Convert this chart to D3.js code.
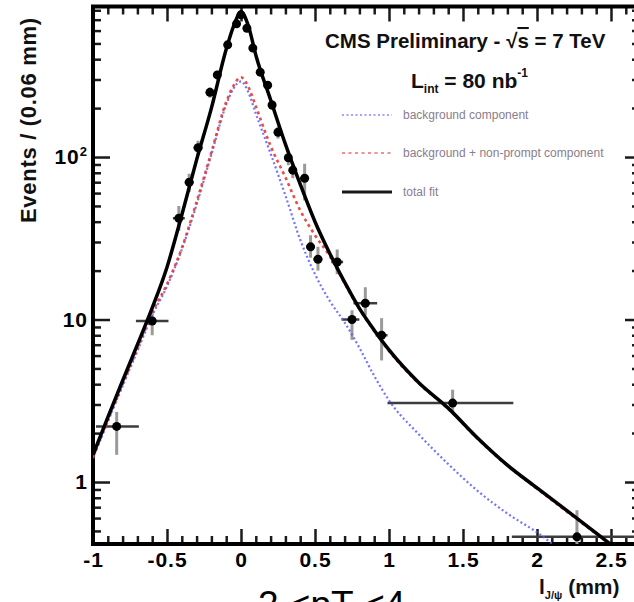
<!DOCTYPE html>
<html>
<head>
<meta charset="utf-8">
<script src="https://cdn.jsdelivr.net/npm/d3@7/dist/d3.min.js"></script>
<style>
  body { margin: 0; background: #fff; }
  svg { display: block; font-family: 'Liberation Sans', Arial, sans-serif; }
</style>
</head>
<body>
<div id="chart"></div>
<script>
var width = 634;
var height = 602;
var plotLeft = 93, plotRight = 640, plotTop = 6.5, plotBottom = 544;

// fit curves
var fitX =       [-1, -0.9, -0.8, -0.7, -0.6, -0.5, -0.4, -0.3, -0.2, -0.1, -0.05, 0, 0.05, 0.1, 0.2, 0.3, 0.4, 0.5, 0.6, 0.7, 0.8, 0.9, 1.0, 1.2, 1.4, 1.6, 1.8, 2.0, 2.2, 2.4, 2.6];
var totalFit =   [1.47, 2.5, 4.2, 7.0, 11.8, 21, 44, 96, 200, 460, 640, 780, 640, 425, 225, 120, 68, 40, 25.5, 17, 11.7, 8.6, 6.5, 4.1, 2.85, 1.86, 1.27, 0.92, 0.67, 0.485, 0.35];
var bkgNonPrompt=[1.42, 2.4, 4.0, 6.6, 11, 16.5, 27.5, 53, 107, 218, 275, 310, 270, 205, 117, 75, 47, 33, 24.5, 16.7, 11.6, 8.5, 6.4, 4.05, 2.82, 1.84, 1.26, 0.91, 0.66, 0.48, 0.35];
var bkgOnly =    [1.40, 2.35, 3.9, 6.4, 10.6, 16, 27, 51, 104, 210, 265, 292, 250, 185, 105, 58, 31, 19, 13, 9.6, 6.7, 4.5, 3.18, 1.97, 1.29, 0.88, 0.64, 0.49, 0.36, 0.29, 0.23];

// data points
var ptX =  [-0.84, -0.60, -0.42, -0.35, -0.29, -0.21, -0.16, -0.09, -0.03, 0.0, 0.04, 0.08, 0.13, 0.18, 0.21, 0.25, 0.32, 0.35, 0.43, 0.47, 0.52, 0.65, 0.75, 0.84, 0.95, 1.43, 2.27];
var ptY =  [2.2, 9.8, 42, 70, 114, 250, 320, 490, 660, 750, 620, 468, 333, 277, 209, 142, 99, 83, 74, 28, 23.5, 22.6, 10, 12.6, 8.0, 3.06, 0.46];
var ptXLo = [-0.98, -0.71, -0.46, -0.38, -0.32, -0.23, -0.18, -0.11, -0.05, -0.02, 0.02, 0.06, 0.11, 0.16, 0.19, 0.23, 0.30, 0.33, 0.40, 0.44, 0.49, 0.61, 0.68, 0.76, 0.91, 0.99, 1.83];
var ptXHi = [-0.69, -0.49, -0.38, -0.32, -0.26, -0.19, -0.14, -0.07, -0.01, 0.02, 0.06, 0.10, 0.15, 0.20, 0.23, 0.27, 0.34, 0.37, 0.46, 0.50, 0.55, 0.69, 0.80, 0.92, 0.99, 1.84, 2.75];
var ptYLo = [1.47, 8.0, 35, 61, 103, 232, 300, 465, 630, 720, 592, 445, 314, 260, 195, 130, 89, 74, 54, 24, 20, 19, 7.5, 10.6, 5.6, 2.66, 0.3];
var ptYHi = [2.7, 11.5, 50, 79, 126, 268, 340, 515, 690, 780, 648, 491, 352, 294, 223, 154, 109, 92, 91, 33, 28, 27, 11.4, 15.8, 10.2, 3.7, 0.67];

var xMajor = [-1, -0.5, 0, 0.5, 1, 1.5, 2, 2.5];
var yMajor = [1, 10, 100];
var legendLabels = ['background component', 'background + non-prompt component', 'total fit'];

var svg = d3.select('#chart').append('svg')
  .attr('width', width)
  .attr('height', height);

svg.append('rect').attr('width', width).attr('height', height).attr('fill', '#fff');

var x = d3.scaleLinear().domain([-1, 2.696]).range([plotLeft, plotRight]);
var y = d3.scaleLog().domain([0.4155, 844]).range([plotBottom, plotTop]);

svg.append('clipPath').attr('id', 'plotclip')
  .append('rect')
  .attr('x', plotLeft).attr('y', plotTop)
  .attr('width', plotRight - plotLeft).attr('height', plotBottom - plotTop);

// minor ticks
var xMinor = d3.range(-10, 27).map(function(d) { return d / 10; })
  .filter(function(d) { return xMajor.indexOf(d) < 0; });
var yMinor = [];
[0.1, 1, 10, 100].forEach(function(dec) {
  for (var k = 2; k <= 9; k++) yMinor.push(dec * k);
});
yMinor = yMinor.filter(function(d) { return d > 0.4155 && d < 844; });

function styleAxis(g) {
  g.select('.domain').remove();
  g.selectAll('.tick line').attr('stroke', '#1a1a1a').attr('stroke-width', 2.5);
  g.selectAll('.tick text')
    .attr('fill', '#000')
    .attr('font-size', 21)
    .attr('font-weight', 'bold')
    .attr('letter-spacing', 1);
}

svg.append('g').attr('transform', 'translate(0,' + plotBottom + ')')
  .call(d3.axisBottom(x).tickValues(xMajor).tickSize(-15).tickPadding(8)
    .tickFormat(function(d) { return d; }))
  .call(styleAxis);
svg.append('g').attr('transform', 'translate(0,' + plotBottom + ')')
  .call(d3.axisBottom(x).tickValues(xMinor).tickSize(-8).tickFormat(''))
  .call(styleAxis);
svg.append('g').attr('transform', 'translate(0,' + plotTop + ')')
  .call(d3.axisTop(x).tickValues(xMajor).tickSize(-15).tickFormat(''))
  .call(styleAxis);
svg.append('g').attr('transform', 'translate(0,' + plotTop + ')')
  .call(d3.axisTop(x).tickValues(xMinor).tickSize(-8).tickFormat(''))
  .call(styleAxis);

var yAxisG = svg.append('g').attr('transform', 'translate(' + plotLeft + ',0)')
  .call(d3.axisLeft(y).tickValues(yMajor).tickSize(-17).tickPadding(5)
    .tickFormat(function(d) { return d === 100 ? '10' : d; }))
  .call(styleAxis);
yAxisG.selectAll('.tick text').filter(function(d) { return d === 100; })
  .append('tspan').attr('dy', '-0.6em').attr('font-size', 13).text('2');
svg.append('g').attr('transform', 'translate(' + plotLeft + ',0)')
  .call(d3.axisLeft(y).tickValues(yMinor).tickSize(-8).tickFormat(''))
  .call(styleAxis);
svg.append('g').attr('transform', 'translate(' + plotRight + ',0)')
  .call(d3.axisRight(y).tickValues(yMajor).tickSize(-15).tickFormat(''))
  .call(styleAxis);
svg.append('g').attr('transform', 'translate(' + plotRight + ',0)')
  .call(d3.axisRight(y).tickValues(yMinor).tickSize(-8).tickFormat(''))
  .call(styleAxis);

// frame
svg.append('rect')
  .attr('x', plotLeft).attr('y', plotTop)
  .attr('width', plotRight - plotLeft).attr('height', plotBottom - plotTop)
  .attr('fill', 'none').attr('stroke', '#000').attr('stroke-width', 4);

var plot = svg.append('g').attr('clip-path', 'url(#plotclip)');

function curve(values) {
  return d3.line()
    .x(function(d, i) { return x(fitX[i]); })
    .y(function(d) { return y(d); })
    .curve(d3.curveMonotoneX)(values);
}

var styles = [
  { stroke: '#5a5aff', width: 2.2, dash: '2,2.5', opacity: 0.85 },
  { stroke: '#e8392f', width: 2.6, dash: '3,3.5', opacity: 0.9 },
  { stroke: '#000', width: 3.5, dash: null, opacity: 1 }
];
var series = [bkgOnly, bkgNonPrompt, totalFit];

// error bars and points
var pts = ptX.map(function(d, i) {
  return { x: d, y: ptY[i], xlo: ptXLo[i], xhi: ptXHi[i], ylo: ptYLo[i], yhi: ptYHi[i] };
});

plot.selectAll('.ebar-y').data(pts).enter().append('line')
  .attr('class', 'ebar-y')
  .attr('x1', function(d) { return x(d.x); })
  .attr('x2', function(d) { return x(d.x); })
  .attr('y1', function(d) { return y(d.ylo); })
  .attr('y2', function(d) { return y(d.yhi); })
  .attr('stroke', '#9a9a9a').attr('stroke-width', 3);

plot.selectAll('.ebar-x').data(pts).enter().append('line')
  .attr('class', 'ebar-x')
  .attr('x1', function(d) { return x(d.xlo); })
  .attr('x2', function(d) { return x(d.xhi); })
  .attr('y1', function(d) { return y(d.y); })
  .attr('y2', function(d) { return y(d.y); })
  .attr('stroke', '#3c3c3c').attr('stroke-width', 2.5);

series.forEach(function(s, i) {
  plot.append('path')
    .attr('d', curve(s))
    .attr('fill', 'none')
    .attr('stroke', styles[i].stroke)
    .attr('stroke-width', styles[i].width)
    .attr('stroke-dasharray', styles[i].dash)
    .attr('opacity', styles[i].opacity);
});

plot.selectAll('.pt').data(pts).enter().append('circle')
  .attr('class', 'pt')
  .attr('cx', function(d) { return x(d.x); })
  .attr('cy', function(d) { return y(d.y); })
  .attr('r', 4.5)
  .attr('fill', '#000');

// header text
var head = svg.append('text')
  .attr('x', 325).attr('y', 48)
  .attr('font-size', 20.5).attr('font-weight', 'bold').attr('fill', '#111');
head.append('tspan').text('CMS Preliminary - \u221A');
head.append('tspan').attr('text-decoration', 'overline').text('s');
head.append('tspan').text(' = 7 TeV');

var lumi = svg.append('text')
  .attr('x', 411).attr('y', 88)
  .attr('font-size', 21).attr('font-weight', 'bold').attr('fill', '#111');
lumi.append('tspan').text('L');
lumi.append('tspan').attr('font-size', 12).attr('dy', 5).text('int');
lumi.append('tspan').attr('dy', -5).text(' = 80 nb');
lumi.append('tspan').attr('font-size', 12).attr('dy', -11).text('-1');

// legend
var legY = [115, 153, 192];
legendLabels.forEach(function(label, i) {
  svg.append('line')
    .attr('x1', 342).attr('x2', 392)
    .attr('y1', legY[i]).attr('y2', legY[i])
    .attr('stroke', styles[i].stroke)
    .attr('stroke-width', i === 2 ? 3 : 2.2)
    .attr('stroke-dasharray', styles[i].dash)
    .attr('opacity', i === 2 ? 0.9 : 0.55);
  svg.append('text')
    .attr('x', 403).attr('y', legY[i] + 4)
    .attr('font-size', 12)
    .attr('fill', '#8a7d8c')
    .text(label);
});

// axis titles
svg.append('text')
  .attr('transform', 'translate(36,223) rotate(-90)')
  .attr('font-size', 22).attr('font-weight', 'bold').attr('fill', '#111')
  .attr('letter-spacing', 0.7)
  .text('Events / (0.06 mm)');

var xTitle = svg.append('text')
  .attr('x', 539).attr('y', 594)
  .attr('font-size', 21).attr('font-weight', 'bold').attr('fill', '#111');
xTitle.append('tspan').text('l');
xTitle.append('tspan').attr('font-size', 11).attr('dy', 5).text('J/\u03C8');
xTitle.append('tspan').attr('dy', -5).text(' (mm)');

// bin label, cut by the page edge as in the original
svg.append('text')
  .attr('x', 258).attr('y', 617)
  .attr('font-size', 37).attr('fill', '#000')
  .text('2 <pT <4');
</script>
</body>
</html>
